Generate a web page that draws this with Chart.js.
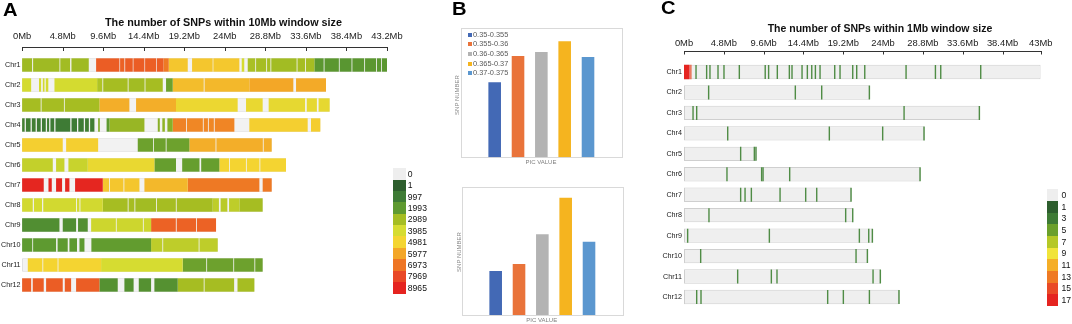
<!DOCTYPE html>
<html><head><meta charset="utf-8">
<script src="https://cdn.jsdelivr.net/npm/chart.js@4.4.1/dist/chart.umd.min.js"></script>
<style>
html,body{margin:0;padding:0;background:#fff;width:1072px;height:324px;overflow:hidden;font-family:"Liberation Sans",Arial,sans-serif;}
canvas{position:absolute;}
.t{position:absolute;white-space:nowrap;line-height:1;}
.c{transform:translate(-50%,-50%);}
</style></head><body>
<canvas id="cA" width="440" height="324" style="left:0;top:0"></canvas>
<canvas id="cB1" width="220" height="170" style="left:440px;top:0"></canvas>
<canvas id="cB2" width="220" height="164" style="left:440px;top:160px"></canvas>
<canvas id="cC" width="412" height="324" style="left:660px;top:0"></canvas>
<div id="overlay"></div>
<script>
// ================= DATA =================
const chromosomes = ['Chr1','Chr2','Chr3','Chr4','Chr5','Chr6','Chr7','Chr8','Chr9','Chr10','Chr11','Chr12'];

// ---- Panel A : SNP counts along chromosomes, [window end (Mb), SNP count] ----
const tickValsA = [0,4.8,9.6,14.4,19.2,24,28.8,33.6,38.4,43.2];
const tickLabelsA = ['0Mb','4.8Mb','9.6Mb','14.4Mb','19.2Mb','24Mb','28.8Mb','33.6Mb','38.4Mb','43.2Mb'];
const lengthsA = [43.27,35.98,36.41,35.31,29.55,31.24,29.55,28.48,22.96,23.16,28.48,27.5];
const winA_chr1 = [[1.18,2900],[1.30,0],[4.42,2900],[4.52,0],[5.68,2950],[5.84,0],[7.89,2900],[8.76,0],[11.52,7500],[11.60,0],[12.11,7400],[12.2,0],[13.10,7500],[13.18,0],[14.48,7500],[14.56,0],[15.86,7450],[15.94,0],[16.73,7500],[17.36,6900],[19.61,5300],[20.12,0],[22.56,5300],[22.64,0],[25.72,5250],[26.0,0],[26.3,4000],[26.71,0],[27.6,3100],[27.7,0],[28.9,3000],[29.0,0],[29.4,3000],[29.5,0],[32.5,2950],[32.6,0],[33.5,3000],[33.6,0],[34.6,3000],[35.7,1900],[35.8,0],[37.5,1900],[37.6,0],[39.0,1850],[39.1,0],[40.5,1900],[40.6,0],[41.9,1900],[42.0,0],[42.5,1900],[42.6,0],[43.27,1900]];
const winA_chr2 = [[1.07,3950],[2.0,0],[2.25,3950],[2.45,0],[2.65,3900],[2.8,0],[3.1,3950],[3.83,0],[8.88,3950],[9.5,3200],[9.6,0],[12.5,3000],[12.6,0],[14.5,2950],[14.6,0],[16.65,3000],[17.04,0],[17.83,2200],[21.5,5500],[21.6,0],[26.9,5600],[32.11,5950],[32.43,0],[35.98,5900]];
const winA_chr3 = [[2.2,3000],[2.3,0],[4.95,3000],[5.05,0],[9.15,3000],[12.70,5800],[13.49,0],[18.22,5800],[25.52,4700],[26.51,0],[28.48,4600],[29.19,0],[33.5,4500],[33.7,0],[34.9,4500],[35.1,0],[36.41,4500]];
const winA_chr4 = [[0.3,1200],[0.45,0],[1.0,1100],[1.15,0],[1.6,1100],[1.75,0],[2.2,1000],[2.35,0],[2.8,1000],[2.95,0],[3.2,1100],[3.35,0],[3.8,1000],[3.95,0],[5.7,1000],[5.85,0],[6.5,1000],[6.65,0],[7.3,1000],[7.45,0],[7.9,1100],[8.05,0],[8.56,1100],[9.0,0],[9.2,2500],[10.0,0],[10.34,2000],[14.48,2800],[16.06,0],[16.3,2600],[16.6,0],[16.9,2700],[17.2,0],[17.83,2600],[19.4,6700],[19.5,0],[21.4,6600],[21.5,0],[22.0,6600],[22.1,0],[22.7,6600],[22.8,0],[25.13,6650],[26.9,0],[33.81,5100],[34.2,0],[35.31,5150]];
const winA_chr5 = [[4.81,5100],[5.21,0],[9.0,5100],[13.69,0],[15.5,2200],[15.6,0],[17.0,2200],[17.1,0],[19.8,2200],[22.9,5800],[23.0,0],[28.5,5800],[28.6,0],[29.55,5800]];
const winA_chr6 = [[3.63,3600],[4.02,0],[5.01,3700],[5.48,0],[7.77,3700],[15.66,4600],[18.22,2100],[18.95,0],[21.0,2100],[21.2,0],[23.35,2100],[24.5,5000],[24.6,0],[26.5,5000],[26.6,0],[28.1,5000],[28.2,0],[31.24,5000]];
const winA_chr7 = [[2.56,8900],[3.12,0],[3.51,8900],[4.02,0],[4.73,8900],[5.09,0],[5.6,8900],[6.27,0],[9.55,8900],[10.3,5300],[10.4,0],[12.0,5300],[12.1,0],[13.89,5300],[14.48,0],[19.61,5600],[28.09,6900],[28.48,0],[29.55,6900]];
const winA_chr8 = [[1.26,3900],[1.4,0],[2.36,3950],[2.5,0],[6.39,3900],[6.5,0],[6.79,3900],[6.9,0],[9.55,3900],[12.5,3000],[12.6,0],[13.3,3000],[13.4,0],[15.86,2950],[15.96,0],[18.2,3000],[18.3,0],[22.56,3000],[23.3,3500],[23.5,0],[24.3,3400],[24.5,0],[25.72,3500],[28.48,3000]];
const winA_chr9 = [[4.42,1600],[4.81,0],[6.39,1600],[6.62,0],[7.77,1650],[8.17,0],[11.1,3800],[11.2,0],[14.3,3800],[14.4,0],[15.27,3800],[18.2,7400],[18.3,0],[20.6,7400],[20.7,0],[22.96,7400]];
const winA_chr10 = [[1.2,2000],[1.3,0],[4.02,2000],[4.2,0],[5.4,2000],[5.6,0],[6.5,2000],[6.79,0],[7.38,2000],[8.2,0],[15.27,2050],[16.6,3500],[16.7,0],[20.9,3500],[21.0,0],[23.16,3500]];
const winA_chr11 = [[0.67,0],[2.4,5000],[2.5,0],[4.2,5000],[4.3,0],[9.35,5000],[19.01,4000],[21.8,2200],[21.9,0],[25.0,2200],[25.1,0],[27.5,2200],[27.6,0],[28.48,2200]];
const winA_chr12 = [[1.07,7500],[1.26,0],[2.56,7500],[2.84,0],[4.81,7500],[5.05,0],[5.8,7500],[6.39,0],[9.15,7500],[11.32,1700],[12.11,0],[13.2,1700],[13.81,0],[15.27,1700],[15.66,0],[18.42,1700],[21.5,3000],[21.6,0],[25.1,3000],[25.5,0],[27.5,3000]];
const legendValuesA = [0,1,997,1993,2989,3985,4981,5977,6973,7969,8965];

// ---- Panel B : SNP number per PIC value class ----
const picRanges = ['0.35-0.355','0.355-0.36','0.36-0.365','0.365-0.37','0.37-0.375'];
const snpTop = [75,101.3,105.3,116,100.3];
const snpBottom = [44,51,80.7,117.3,73.3];

// ---- Panel C : SNP positions (Mb) within 1Mb windows ----
const tickValsC = [0,4.8,9.6,14.4,19.2,24,28.8,33.6,38.4,43];
const tickLabelsC = ['0Mb','4.8Mb','9.6Mb','14.4Mb','19.2Mb','24Mb','28.8Mb','33.6Mb','38.4Mb','43Mb'];
const lengthsC = [43.0,22.35,35.61,28.94,8.72,28.46,20.14,20.34,22.71,22.11,23.67,25.92];
const posC_chr1 = [1.45,2.73,3.13,4.10,4.82,6.67,9.79,10.2,11.25,12.7,13.02,14.23,14.87,15.4,15.84,16.4,18.17,18.81,20.34,20.82,21.79,26.77,30.31,30.95,35.77];
const posC_chr2 = [2.97,13.42,16.6,22.35];
const posC_chr3 = [1.09,1.53,26.53,35.61];
const posC_chr4 = [5.27,17.52,23.95,28.94];
const posC_chr5 = [6.83,8.48,8.68];
const posC_chr6 = [5.18,9.36,9.53,12.74,28.46];
const posC_chr7 = [6.83,7.36,8.12,11.58,14.67,16.0,20.14];
const posC_chr8 = [3.01,19.49,20.34];
const posC_chr9 = [0.44,10.29,21.14,22.27,22.71];
const posC_chr10 = [2.01,20.74,22.11];
const posC_chr11 = [6.47,10.53,11.21,22.79,23.67];
const posC_chr12 = [1.53,2.05,17.32,19.21,22.35,25.92];
const hotC = [[0,0,0.68,17],[0,0.76,0.9,15]]; // [chromosome index, start, end, SNP count]
const legendValuesC = [0,1,3,5,7,9,11,13,15,17];

// ================= STYLES =================
const FONT = '"Liberation Sans", Arial, sans-serif';
const legendColorsA = ['#eeeeee','#2e5e2e','#3e7b35','#5e9a30','#a5bd22','#d6dc31','#f4d531','#f3a627','#ee7524','#e94826','#e52420'];
const legendColorsC = ['#eeeeee','#2d5e2e','#3e7b35','#6ba02b','#b5c826','#f1e43a','#f5ae27','#ef7a23','#e94a26','#e52420'];
const picColors = ['#4369b5','#e9733a','#b3b3b3','#f5b41f','#5b97cf'];

function hex(h){return [parseInt(h.slice(1,3),16),parseInt(h.slice(3,5),16),parseInt(h.slice(5,7),16)];}
function scaleColor(v, vals, cols){
  if(!v) return cols[0];
  if(v<=vals[1]) return cols[1];
  for(let i=1;i<vals.length-1;i++){
    if(v<=vals[i+1]){
      const t=(v-vals[i])/(vals[i+1]-vals[i]); const a=hex(cols[i]), b=hex(cols[i+1]);
      return 'rgb('+a.map((x,k)=>Math.round(x+(b[k]-x)*t)).join(',')+')';
    }
  }
  return cols[cols.length-1];
}

const topAxisPlugin = {
  id:'topAxis',
  afterDraw(chart, args, o){
    const x=chart.scales.x, c=chart.ctx;
    c.save(); c.strokeStyle='#333'; c.lineWidth=1; c.beginPath();
    const y=Math.round(o.y)+0.5;
    c.moveTo(Math.round(x.getPixelForValue(o.vals[0])), y);
    c.lineTo(Math.round(x.getPixelForValue(o.vals[o.vals.length-1]))+1, y);
    o.vals.forEach(v=>{const px=Math.round(x.getPixelForValue(v))+0.5; c.moveTo(px,y); c.lineTo(px,y+o.tick);});
    c.stroke(); c.restore();
  }
};
const framePlugin = {
  id:'frame',
  beforeDatasetsDraw(chart){
    const a=chart.chartArea, c=chart.ctx;
    c.save(); c.strokeStyle='#d9d9d9'; c.lineWidth=1;
    c.strokeRect(Math.round(a.left)+0.5, Math.round(a.top)+0.5, Math.round(a.right-a.left), Math.round(a.bottom-a.top));
    c.restore();
  }
};

// ================= PANEL A =================
const winA = [winA_chr1,winA_chr2,winA_chr3,winA_chr4,winA_chr5,winA_chr6,winA_chr7,winA_chr8,winA_chr9,winA_chr10,winA_chr11,winA_chr12];
const segsA = winA.map(list=>{let s=0; return list.map(([e,v])=>{const r=[s,e,v]; s=e; return r;});});
const maxSegA = Math.max(...segsA.map(s=>s.length));
const barA = {grouped:false, barPercentage:0.67, categoryPercentage:1};
const dsA = [Object.assign({data:lengthsA.map(l=>[0,l]), backgroundColor:'#f2f2f2', borderColor:'#d8d8d8', borderWidth:1, borderSkipped:false, order:10}, barA)];
for(let j=0;j<maxSegA;j++){
  dsA.push(Object.assign({
    data: segsA.map(s=> (s[j] && s[j][2]>0) ? [s[j][0], s[j][1]] : null),
    backgroundColor: segsA.map(s=> s[j] ? scaleColor(s[j][2], legendValuesA, legendColorsA) : 'rgba(0,0,0,0)'),
    borderWidth:0, order:0}, barA));
}
new Chart(document.getElementById('cA'), {
  type:'bar',
  data:{labels:chromosomes, datasets:dsA},
  options:{
    indexAxis:'y', responsive:false, animation:false, events:[],
    layout:{padding:{left:0,top:0,right:53,bottom:29}},
    plugins:{legend:{display:false}, tooltip:{enabled:false}, topAxis:{y:46.5, tick:3.5, vals:tickValsA}},
    scales:{
      x:{type:'linear', position:'top', min:0, max:43.2,
         grid:{display:false, drawTicks:false}, border:{display:false},
         afterFit(s){s.height=55;},
         afterBuildTicks(s){s.ticks=tickValsA.map(v=>({value:v}));},
         ticks:{autoSkip:false, maxRotation:0, padding:13, color:'#222', font:{family:FONT,size:9.4}, callback:(v,i)=>tickLabelsA[i]}},
      y:{grid:{display:false, drawTicks:false}, border:{display:false},
         afterFit(s){s.width=22;},
         ticks:{padding:1.5, color:'#222', font:{family:FONT,size:7.2}}}
    }
  },
  plugins:[topAxisPlugin]
});

// ================= PANEL B =================
function makePic(id, values, max, padding){
  new Chart(document.getElementById(id), {
    type:'bar',
    data:{labels:[''], datasets:picRanges.map((r,i)=>({label:r, data:[values[i]], backgroundColor:picColors[i], borderWidth:0, categoryPercentage:0.726, barPercentage:0.54}))},
    options:{responsive:false, animation:false, events:[],
      layout:{padding},
      plugins:{legend:{display:false}, tooltip:{enabled:false}},
      scales:{x:{display:false}, y:{display:false, min:0, max}}},
    plugins:[framePlugin]
  });
}
makePic('cB1', snpTop, 129, {left:21, right:38.3, top:28.3, bottom:12.7});
makePic('cB2', snpBottom, 128.3, {left:22, right:37.3, top:26.7, bottom:9});

// ================= PANEL C =================
const posC = [posC_chr1,posC_chr2,posC_chr3,posC_chr4,posC_chr5,posC_chr6,posC_chr7,posC_chr8,posC_chr9,posC_chr10,posC_chr11,posC_chr12];
const barC = {grouped:false, barPercentage:0.7, categoryPercentage:1};
const dsC = [Object.assign({data:lengthsC.map(l=>[0,l]), backgroundColor:'#efefef', borderColor:'#cfcfcf', borderWidth:1, borderSkipped:false, order:10}, barC)];
hotC.forEach(h=>{
  dsC.push(Object.assign({data:chromosomes.map((c,i)=> i===h[0] ? [h[1],h[2]] : null), backgroundColor:scaleColor(h[3], legendValuesC, legendColorsC), borderWidth:0, order:5}, barC));
});
const linePts = [];
posC.forEach((arr,i)=>arr.forEach(p=>linePts.push({x:p, y:chromosomes[i]})));
dsC.push({type:'scatter', data:linePts, order:0, pointStyle:'line', pointRotation:90, rotation:90, pointRadius:7, radius:7,
  pointBorderColor:'#4f8c45', borderColor:'#4f8c45', pointBorderWidth:1.4, borderWidth:1.4, pointBackgroundColor:'#4f8c45'});
new Chart(document.getElementById('cC'), {
  type:'bar',
  data:{labels:chromosomes, datasets:dsC},
  options:{
    indexAxis:'y', responsive:false, animation:false, events:[],
    layout:{padding:{left:0,top:0,right:31.3,bottom:16.8}},
    plugins:{legend:{display:false}, tooltip:{enabled:false}, topAxis:{y:51.3, tick:3, vals:tickValsC}},
    scales:{
      x:{type:'linear', position:'top', min:0, max:43,
         grid:{display:false, drawTicks:false}, border:{display:false},
         afterFit(s){s.height=61.8;},
         afterBuildTicks(s){s.ticks=tickValsC.map(v=>({value:v}));},
         ticks:{autoSkip:false, maxRotation:0, padding:13, color:'#222', font:{family:FONT,size:9.4}, callback:(v,i)=>tickLabelsC[i]}},
      y:{grid:{display:false, drawTicks:false}, border:{display:false},
         afterFit(s){s.width=24;},
         ticks:{padding:2, color:'#222', font:{family:FONT,size:7.2}}}
    }
  },
  plugins:[topAxisPlugin]
});

// ================= TEXT / LEGENDS (HTML) =================
const ov = document.getElementById('overlay');
function txt(s, x, y, css, center){
  const d=document.createElement('div'); d.className='t'+(center?' c':''); d.textContent=s;
  d.style.left=x+'px'; d.style.top=y+'px'; d.style.cssText+=';'+css; ov.appendChild(d); return d;
}
function box(x,y,w,h,col){const d=document.createElement('div'); d.style.cssText=`position:absolute;left:${x}px;top:${y}px;width:${w}px;height:${h}px;background:${col}`; ov.appendChild(d);}
// panel letters
txt('A',3,2,'font-size:17.5px;font-weight:bold;color:#000;transform:scaleX(1.15);transform-origin:left top');
txt('B',452,1,'font-size:17.5px;font-weight:bold;color:#000;transform:scaleX(1.15);transform-origin:left top');
txt('C',661,0,'font-size:17.5px;font-weight:bold;color:#000;transform:scaleX(1.15);transform-origin:left top');
// titles
txt('The number of SNPs within 10Mb window size',223.5,22,'font-size:10.8px;font-weight:bold;color:#111',true);
txt('The number of SNPs within 1Mb window size',880,28.3,'font-size:10.5px;font-weight:bold;color:#111',true);
// legend A
const hA=125/legendValuesA.length;
legendValuesA.forEach((v,i)=>{
  box(393.3,168.3+i*hA,12.4,hA+0.3,legendColorsA[i]);
  txt(String(v),407.8,168.3+i*hA+hA/2,'font-size:8.6px;color:#111;transform:translateY(-50%)');
});
// legend C
const hC=116.7/legendValuesC.length;
legendValuesC.forEach((v,i)=>{
  box(1046.7,189.3+i*hC,11.6,hC+0.3,legendColorsC[i]);
  txt(String(v),1061.5,189.3+i*hC+hC/2,'font-size:8.6px;color:#111;transform:translateY(-50%)');
});
// panel B legend & axis titles
const rowsB=[35,44.3,54,63.7,73.3];
picRanges.forEach((r,i)=>{
  box(467.5,rowsB[i]-2,4,4,picColors[i]);
  txt(r,473,rowsB[i],'font-size:7.4px;color:#595959;transform:translateY(-50%)');
});
txt('SNP NUMBER',457,95,'font-size:6px;color:#8c8c8c;transform:translate(-50%,-50%) rotate(-90deg)');
txt('PIC VALUE',541,161.7,'font-size:6px;color:#7f7f7f',true);
txt('SNP NUMBER',458.5,251.7,'font-size:6px;color:#8c8c8c;transform:translate(-50%,-50%) rotate(-90deg)');
txt('PIC VALUE',541.7,320,'font-size:6px;color:#7f7f7f',true);
</script>
</body></html>
